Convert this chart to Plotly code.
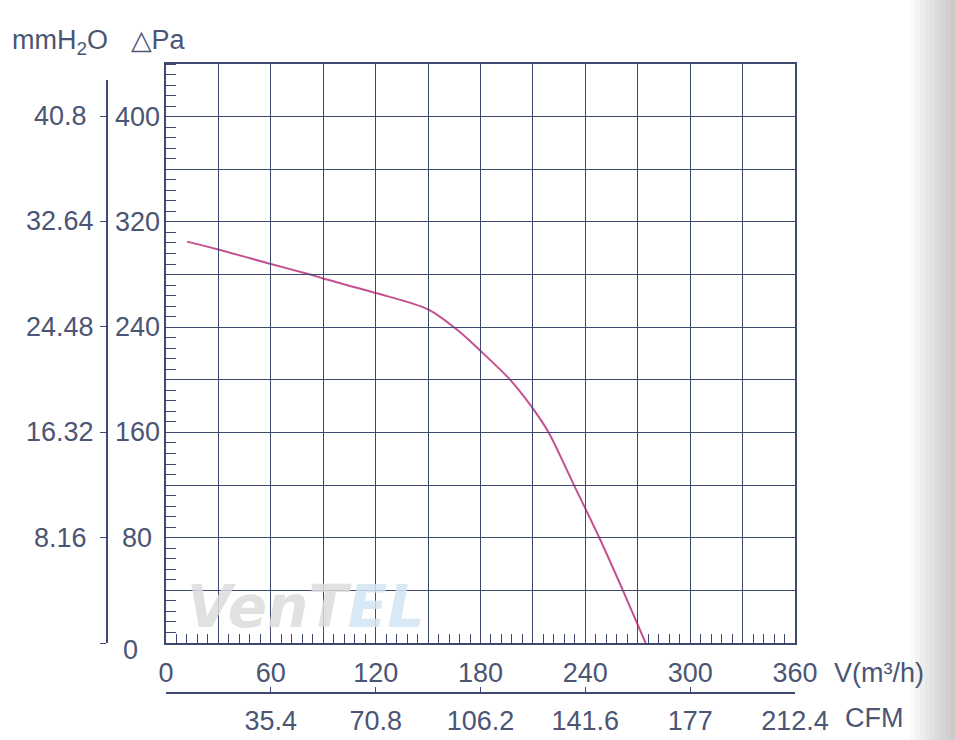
import plotly.graph_objects as go

# ---- data ----
flow_m3h = [12, 30, 60, 82.5, 90, 120, 150, 168.5, 180, 197, 209, 219, 233.5, 248, 261.5, 274.5]
pressure_pa = [305, 299, 288, 280, 277, 266, 253.5, 236, 222, 200, 180, 160, 120, 80, 40, 0]

x_label_vals = list(range(0, 361, 60))
pa_ticks = list(range(0, 441, 40))
pa_label_vals = [80, 160, 240, 320, 400]
mm_ticks = [0, 8.16, 16.32, 24.48, 32.64, 40.8]
mm_label_vals = [8.16, 16.32, 24.48, 32.64, 40.8]
mm_label_text = ["8.16", "16.32", "24.48", "32.64", "40.8"]
cfm_ticks = [35.4, 70.8, 106.2, 141.6, 177, 212.4]
cfm_labels = ["35.4", "70.8", "106.2", "141.6", "177", "212.4"]

W, H = 955, 740
TXT = "#4b5574"
GRID = "#3e4a72"
CURVE = "#c4508f"
FONT = "Liberation Sans, Arial, sans-serif"
FS = 27

px = lambda v: v / W
py = lambda v: (H - v) / H

x_dom = [px(166), px(795)]
y_dom = [py(643), py(64)]

fig = go.Figure()
fig.add_trace(go.Scatter(
    x=flow_m3h, y=pressure_pa, mode="lines",
    line=dict(color=CURVE, width=2, shape="spline", smoothing=0.8),
    showlegend=False, hoverinfo="x+y"))
# anchor traces for the secondary scales
fig.add_trace(go.Scatter(x=[None], y=[None], xaxis="x", yaxis="y2", showlegend=False))
fig.add_trace(go.Scatter(x=[None], y=[None], xaxis="x2", yaxis="y", showlegend=False))
fig.add_trace(go.Scatter(x=[None], y=[None], xaxis="x3", yaxis="y", showlegend=False))

fig.update_layout(
    width=W, height=H,
    margin=dict(l=0, r=0, t=0, b=0, autoexpand=False),
    paper_bgcolor="white", plot_bgcolor="rgba(0,0,0,0)",
    font=dict(family=FONT, size=FS, color=TXT),
    xaxis=dict(
        domain=x_dom, range=[0, 360], anchor="y",
        tickmode="array", tickvals=x_label_vals,
        ticks="", showgrid=True, gridcolor=GRID, gridwidth=1.2,
        showline=True, linecolor=GRID, linewidth=1.5, mirror=True,
        zeroline=False, ticklabelstandoff=5, automargin=False,
        minor=dict(dtick=30, tick0=0, ticks="", showgrid=True,
                   gridcolor=GRID, gridwidth=1.2),
    ),
    # fine ticks along the bottom edge
    xaxis3=dict(
        overlaying="x", range=[0, 360], anchor="y", side="bottom",
        tickmode="linear", dtick=6, tick0=0, ticks="inside", ticklen=9,
        tickcolor=GRID, tickwidth=1.2, showticklabels=False,
        showgrid=False, zeroline=False, showline=False,
    ),
    yaxis=dict(
        domain=y_dom, range=[0, 440], anchor="x",
        tickmode="array", tickvals=pa_ticks, showticklabels=False,
        ticks="", showgrid=True, gridcolor=GRID, gridwidth=1.2,
        showline=True, linecolor=GRID, linewidth=1.5, mirror=True,
        zeroline=False, automargin=False,
        minor=dict(dtick=8, tick0=0, ticks="inside", ticklen=10,
                   tickcolor=GRID, tickwidth=1.2, showgrid=False),
    ),
    yaxis2=dict(
        domain=[py(643), py(80)], range=[0, (643 - 80) / 1.3175 * 0.102],
        anchor="free", position=px(107), side="left",
        tickmode="array", tickvals=mm_ticks, showticklabels=False,
        ticks="outside", ticklen=6, tickcolor=GRID, tickwidth=1.2,
        showgrid=False, zeroline=False,
        showline=True, linecolor=GRID, linewidth=1.5, automargin=False,
    ),
    xaxis2=dict(
        domain=x_dom, range=[0, 212.4],
        anchor="free", position=py(693), side="bottom",
        tickmode="array", tickvals=cfm_ticks, ticktext=cfm_labels,
        ticks="inside", ticklen=5, tickcolor=GRID, tickwidth=1.2,
        showgrid=False, zeroline=False,
        showline=True, linecolor=GRID, linewidth=1.5,
        ticklabelstandoff=4, automargin=False,
    ),
)

tfont = dict(family=FONT, size=FS, color=TXT)
# Pa labels (centred column)
for v in pa_label_vals:
    fig.add_annotation(xref="paper", yref="y", x=px(137), y=v, text=str(v),
                       showarrow=False, xanchor="center", yanchor="middle", font=tfont)
# mmH2O labels (centred column)
for v, t in zip(mm_label_vals, mm_label_text):
    fig.add_annotation(xref="paper", yref="y2", x=px(60), y=v, text=t,
                       showarrow=False, xanchor="center", yanchor="middle", font=tfont)

ann = [
    dict(text="mmH<sub>2</sub>O   △Pa", x=px(10), y=py(42), xanchor="left", yanchor="middle"),
    dict(text="0", x=px(130), y=py(650), xanchor="center", yanchor="middle"),
    dict(text="V(m³/h)", x=px(832), y=py(673), xanchor="left", yanchor="middle"),
    dict(text="CFM", x=px(843), y=py(718), xanchor="left", yanchor="middle"),
]
for a in ann:
    fig.add_annotation(xref="paper", yref="paper", showarrow=False, font=tfont, **a)

# faint watermark
fig.add_annotation(
    xref="paper", yref="paper", x=px(305), y=py(607), xanchor="center", yanchor="middle",
    showarrow=False,
    text="<b><i><span style='color:#dcdcdc'>VenT</span><span style='color:#d2e4f3'>EL</span></i></b>",
    font=dict(family="DejaVu Sans, sans-serif", size=58), opacity=0.85)

# scanner shadow on the right edge
for x0 in range(910, 955, 5):
    fig.add_shape(type="rect", xref="paper", yref="paper",
                  x0=px(x0), x1=1, y0=0, y1=1, line=dict(width=0),
                  fillcolor="rgba(0,0,0,0.022)", layer="below")

fig.write_html("out.html")
